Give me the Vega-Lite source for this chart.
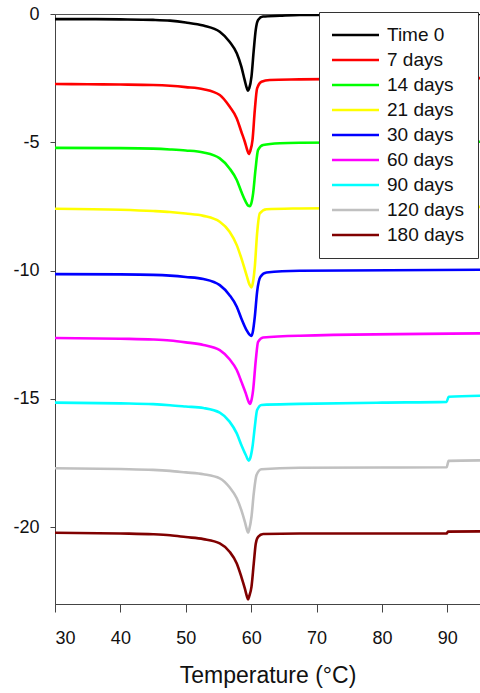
{
  "$schema": "https://vega.github.io/schema/vega-lite/v6.json",
  "width": 425,
  "height": 590,
  "autosize": {"type": "none"},
  "padding": {"left": 55, "top": 14, "right": 0, "bottom": 89},
  "background": "white",
  "config": {
    "view": {"stroke": "#555", "strokeWidth": 1},
    "font": "Liberation Sans",
    "axis": {"grid": false, "domainColor": "#444", "tickColor": "#444", "labelColor": "#111", "titleColor": "#111", "labelFont": "Liberation Sans", "titleFont": "Liberation Sans", "titleFontWeight": "normal"}
  },
  "datasets": {
    "curves": [
      {"s":"Time 0","t":30,"v":-0.20},{"s":"Time 0","t":35,"v":-0.20},{"s":"Time 0","t":40,"v":-0.21},{"s":"Time 0","t":45,"v":-0.23},{"s":"Time 0","t":47.6,"v":-0.26},{"s":"Time 0","t":50,"v":-0.33},{"s":"Time 0","t":52.7,"v":-0.45},{"s":"Time 0","t":55.2,"v":-0.69},{"s":"Time 0","t":56.7,"v":-1.08},{"s":"Time 0","t":57.8,"v":-1.53},{"s":"Time 0","t":58.5,"v":-2.05},{"s":"Time 0","t":59.0,"v":-2.57},{"s":"Time 0","t":59.35,"v":-2.90},{"s":"Time 0","t":59.53,"v":-2.99},{"s":"Time 0","t":59.7,"v":-2.90},{"s":"Time 0","t":60.05,"v":-2.44},{"s":"Time 0","t":60.4,"v":-1.40},{"s":"Time 0","t":60.7,"v":-0.62},{"s":"Time 0","t":61.06,"v":-0.23},{"s":"Time 0","t":61.8,"v":-0.10},{"s":"Time 0","t":64.4,"v":-0.07},{"s":"Time 0","t":67.4,"v":-0.04},{"s":"Time 0","t":75,"v":-0.02},{"s":"Time 0","t":95,"v":0.0},

      {"s":"7 days","t":30,"v":-2.73},{"s":"7 days","t":35,"v":-2.74},{"s":"7 days","t":40,"v":-2.75},{"s":"7 days","t":45,"v":-2.77},{"s":"7 days","t":47.6,"v":-2.80},{"s":"7 days","t":50,"v":-2.85},{"s":"7 days","t":52.7,"v":-2.93},{"s":"7 days","t":55.2,"v":-3.16},{"s":"7 days","t":56.7,"v":-3.61},{"s":"7 days","t":57.8,"v":-4.07},{"s":"7 days","t":58.5,"v":-4.59},{"s":"7 days","t":59.03,"v":-4.98},{"s":"7 days","t":59.4,"v":-5.30},{"s":"7 days","t":59.64,"v":-5.46},{"s":"7 days","t":59.85,"v":-5.35},{"s":"7 days","t":60.21,"v":-4.91},{"s":"7 days","t":60.56,"v":-3.74},{"s":"7 days","t":60.91,"v":-2.90},{"s":"7 days","t":61.58,"v":-2.64},{"s":"7 days","t":62.85,"v":-2.57},{"s":"7 days","t":67.4,"v":-2.55},{"s":"7 days","t":80,"v":-2.52},{"s":"7 days","t":95,"v":-2.50},

      {"s":"14 days","t":30,"v":-5.22},{"s":"14 days","t":40,"v":-5.23},{"s":"14 days","t":45,"v":-5.25},{"s":"14 days","t":47.6,"v":-5.28},{"s":"14 days","t":50,"v":-5.32},{"s":"14 days","t":52.7,"v":-5.40},{"s":"14 days","t":55.2,"v":-5.63},{"s":"14 days","t":56.7,"v":-6.02},{"s":"14 days","t":57.8,"v":-6.47},{"s":"14 days","t":58.5,"v":-6.93},{"s":"14 days","t":59.18,"v":-7.32},{"s":"14 days","t":59.55,"v":-7.47},{"s":"14 days","t":59.79,"v":-7.49},{"s":"14 days","t":60.0,"v":-7.40},{"s":"14 days","t":60.30,"v":-6.99},{"s":"14 days","t":60.66,"v":-6.08},{"s":"14 days","t":61.06,"v":-5.30},{"s":"14 days","t":61.83,"v":-5.11},{"s":"14 days","t":64.4,"v":-5.04},{"s":"14 days","t":67.4,"v":-5.02},{"s":"14 days","t":95,"v":-4.98},

      {"s":"21 days","t":30,"v":-7.59},{"s":"21 days","t":40,"v":-7.63},{"s":"21 days","t":45,"v":-7.68},{"s":"21 days","t":47.6,"v":-7.72},{"s":"21 days","t":50,"v":-7.78},{"s":"21 days","t":52.7,"v":-7.87},{"s":"21 days","t":55.2,"v":-8.10},{"s":"21 days","t":56.7,"v":-8.49},{"s":"21 days","t":57.8,"v":-9.01},{"s":"21 days","t":58.5,"v":-9.52},{"s":"21 days","t":59.29,"v":-10.18},{"s":"21 days","t":59.75,"v":-10.55},{"s":"21 days","t":60.05,"v":-10.66},{"s":"21 days","t":60.25,"v":-10.50},{"s":"21 days","t":60.56,"v":-9.85},{"s":"21 days","t":60.91,"v":-8.55},{"s":"21 days","t":61.32,"v":-7.77},{"s":"21 days","t":62.35,"v":-7.61},{"s":"21 days","t":67.4,"v":-7.58},{"s":"21 days","t":95,"v":-7.52},

      {"s":"30 days","t":30,"v":-10.14},{"s":"30 days","t":40,"v":-10.15},{"s":"30 days","t":45,"v":-10.17},{"s":"30 days","t":47.6,"v":-10.20},{"s":"30 days","t":50,"v":-10.25},{"s":"30 days","t":52.7,"v":-10.33},{"s":"30 days","t":55.2,"v":-10.57},{"s":"30 days","t":56.7,"v":-10.96},{"s":"30 days","t":57.8,"v":-11.41},{"s":"30 days","t":58.5,"v":-11.87},{"s":"30 days","t":59.29,"v":-12.32},{"s":"30 days","t":59.75,"v":-12.50},{"s":"30 days","t":60.05,"v":-12.55},{"s":"30 days","t":60.25,"v":-12.40},{"s":"30 days","t":60.56,"v":-11.80},{"s":"30 days","t":60.91,"v":-10.83},{"s":"30 days","t":61.43,"v":-10.24},{"s":"30 days","t":62.35,"v":-10.08},{"s":"30 days","t":67.4,"v":-10.01},{"s":"30 days","t":95,"v":-9.97},

      {"s":"60 days","t":30,"v":-12.63},{"s":"60 days","t":40,"v":-12.66},{"s":"60 days","t":45,"v":-12.69},{"s":"60 days","t":47.6,"v":-12.73},{"s":"60 days","t":50,"v":-12.80},{"s":"60 days","t":52.7,"v":-12.90},{"s":"60 days","t":55.2,"v":-13.10},{"s":"60 days","t":56.7,"v":-13.46},{"s":"60 days","t":57.8,"v":-13.88},{"s":"60 days","t":58.5,"v":-14.33},{"s":"60 days","t":59.18,"v":-14.79},{"s":"60 days","t":59.55,"v":-15.08},{"s":"60 days","t":59.79,"v":-15.20},{"s":"60 days","t":60.0,"v":-15.10},{"s":"60 days","t":60.30,"v":-14.66},{"s":"60 days","t":60.71,"v":-13.49},{"s":"60 days","t":61.06,"v":-12.78},{"s":"60 days","t":61.83,"v":-12.61},{"s":"60 days","t":67.4,"v":-12.54},{"s":"60 days","t":95,"v":-12.45},

      {"s":"90 days","t":30,"v":-15.15},{"s":"90 days","t":40,"v":-15.18},{"s":"90 days","t":45,"v":-15.21},{"s":"90 days","t":47.6,"v":-15.25},{"s":"90 days","t":50,"v":-15.30},{"s":"90 days","t":52.7,"v":-15.36},{"s":"90 days","t":55.2,"v":-15.54},{"s":"90 days","t":56.7,"v":-15.89},{"s":"90 days","t":57.8,"v":-16.35},{"s":"90 days","t":58.5,"v":-16.80},{"s":"90 days","t":59.18,"v":-17.19},{"s":"90 days","t":59.64,"v":-17.41},{"s":"90 days","t":59.85,"v":-17.32},{"s":"90 days","t":60.21,"v":-16.86},{"s":"90 days","t":60.56,"v":-16.09},{"s":"90 days","t":60.91,"v":-15.44},{"s":"90 days","t":61.58,"v":-15.24},{"s":"90 days","t":67.4,"v":-15.20},{"s":"90 days","t":80,"v":-15.15},{"s":"90 days","t":89.9,"v":-15.12},{"s":"90 days","t":90.2,"v":-14.92},{"s":"90 days","t":95,"v":-14.88},

      {"s":"120 days","t":30,"v":-17.71},{"s":"120 days","t":40,"v":-17.74},{"s":"120 days","t":45,"v":-17.77},{"s":"120 days","t":47.6,"v":-17.81},{"s":"120 days","t":50,"v":-17.87},{"s":"120 days","t":52.7,"v":-17.94},{"s":"120 days","t":55.2,"v":-18.10},{"s":"120 days","t":56.7,"v":-18.45},{"s":"120 days","t":57.8,"v":-18.88},{"s":"120 days","t":58.5,"v":-19.34},{"s":"120 days","t":59.03,"v":-19.79},{"s":"120 days","t":59.35,"v":-20.10},{"s":"120 days","t":59.53,"v":-20.22},{"s":"120 days","t":59.7,"v":-20.10},{"s":"120 days","t":60.05,"v":-19.60},{"s":"120 days","t":60.40,"v":-18.69},{"s":"120 days","t":60.82,"v":-17.97},{"s":"120 days","t":61.58,"v":-17.75},{"s":"120 days","t":67.4,"v":-17.69},{"s":"120 days","t":80,"v":-17.68},{"s":"120 days","t":89.9,"v":-17.67},{"s":"120 days","t":90.2,"v":-17.42},{"s":"120 days","t":95,"v":-17.40},

      {"s":"180 days","t":30,"v":-20.22},{"s":"180 days","t":40,"v":-20.25},{"s":"180 days","t":45,"v":-20.28},{"s":"180 days","t":47.6,"v":-20.32},{"s":"180 days","t":50,"v":-20.39},{"s":"180 days","t":52.7,"v":-20.47},{"s":"180 days","t":55.2,"v":-20.64},{"s":"180 days","t":56.7,"v":-20.96},{"s":"180 days","t":57.8,"v":-21.42},{"s":"180 days","t":58.5,"v":-21.94},{"s":"180 days","t":59.03,"v":-22.39},{"s":"180 days","t":59.35,"v":-22.70},{"s":"180 days","t":59.53,"v":-22.82},{"s":"180 days","t":59.7,"v":-22.70},{"s":"180 days","t":60.05,"v":-22.33},{"s":"180 days","t":60.40,"v":-21.42},{"s":"180 days","t":60.71,"v":-20.64},{"s":"180 days","t":61.06,"v":-20.38},{"s":"180 days","t":61.83,"v":-20.27},{"s":"180 days","t":67.4,"v":-20.25},{"s":"180 days","t":89.9,"v":-20.25},{"s":"180 days","t":90.1,"v":-20.18},{"s":"180 days","t":95,"v":-20.17}
    ]
  },
  "data": {"name": "curves"},
  "mark": {"type": "line", "interpolate": "monotone", "strokeWidth": 2.6, "clip": true},
  "encoding": {
    "x": {
      "field": "t", "type": "quantitative",
      "scale": {"domain": [30, 95], "nice": false, "zero": false},
      "axis": {"values": [30, 40, 50, 60, 70, 80, 90], "tickSize": 8, "labelFontSize": 18, "labelPadding": 17, "title": "Temperature (°C)", "titleFontSize": 23, "titlePadding": 17}
    },
    "y": {
      "field": "v", "type": "quantitative",
      "scale": {"domain": [-23, 0], "nice": false, "zero": false},
      "axis": {"values": [0, -5, -10, -15, -20], "tickSize": 5, "labelFontSize": 18, "labelPadding": 11, "labelExpr": "'' + datum.value", "title": null}
    },
    "color": {
      "field": "s", "type": "nominal",
      "scale": {
        "domain": ["Time 0", "7 days", "14 days", "21 days", "30 days", "60 days", "90 days", "120 days", "180 days"],
        "range": ["#000000", "#ff0000", "#00ff00", "#ffff00", "#0000ff", "#ff00ff", "#00ffff", "#c0c0c0", "#800000"]
      },
      "legend": {
        "title": null,
        "orient": "none",
        "legendX": 264,
        "legendY": -2,
        "zindex": 1,
        "fillColor": "white",
        "strokeColor": "#333",
        "padding": 13,
        "symbolType": "M-2.35,0H2.35",
        "symbolSize": 400,
        "symbolStrokeWidth": 2.5,
        "symbolOffset": 12,
        "labelOffset": 20,
        "labelFontSize": 19,
        "labelFont": "Liberation Sans",
        "labelColor": "#111",
        "rowPadding": 5,
        "clipHeight": 20
      }
    }
  }
}
